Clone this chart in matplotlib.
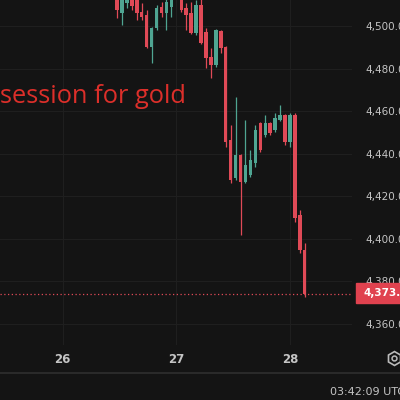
import matplotlib
matplotlib.use("Agg")
import matplotlib.pyplot as plt
from matplotlib.patches import Rectangle
from matplotlib.lines import Line2D

# ---- data (hourly candles, index 0 = day 26 00:00, 23 candles per session) ----
candle_idx = list(range(11, 50))
opens  = [4516.9, 4506.1, 4510.8, 4513.2, 4513.0, 4506.6, 4505.2, 4490.1, 4499.1, 4508.9,
          4506.1, 4508.9, 4514.0, 4516.0, 4508.5, 4506.1, 4496.7, 4509.9, 4497.2, 4485.4,
          4481.6, 4497.7, 4490.1, 4446.4, 4428.5, 4439.3, 4426.6, 4429.9, 4435.5, 4454.4,
          4448.7, 4454.4, 4451.1, 4455.8, 4458.1, 4445.4, 4458.1, 4411.1, 4394.6]
highs  = [4519.3, 4517.0, 4516.5, 4515.0, 4514.5, 4510.8, 4507.5, 4499.5, 4509.9, 4511.3,
          4513.2, 4516.0, 4522.0, 4518.0, 4510.8, 4511.3, 4512.2, 4513.0, 4499.1, 4489.6,
          4498.4, 4498.0, 4490.5, 4453.4, 4466.6, 4439.8, 4455.8, 4441.7, 4453.4, 4454.8,
          4458.1, 4454.8, 4459.1, 4462.8, 4458.5, 4459.1, 4459.1, 4413.4, 4397.9]
lows   = [4503.8, 4500.5, 4508.5, 4507.5, 4502.8, 4502.8, 4489.6, 4482.6, 4498.1, 4504.2,
          4498.1, 4504.2, 4513.0, 4506.6, 4498.1, 4496.2, 4495.8, 4491.5, 4480.2, 4475.5,
          4480.7, 4487.3, 4443.1, 4426.1, 4427.5, 4401.6, 4426.2, 4428.9, 4433.6, 4440.7,
          4447.8, 4448.7, 4450.1, 4455.5, 4444.0, 4443.1, 4407.8, 4393.2, 4372.5]
closes = [4507.5, 4514.6, 4514.6, 4509.4, 4506.1, 4504.2, 4490.1, 4499.1, 4508.5, 4506.1,
          4511.3, 4513.7, 4519.0, 4507.5, 4505.2, 4496.7, 4509.9, 4492.0, 4484.9, 4481.6,
          4498.1, 4489.6, 4445.4, 4427.5, 4439.3, 4426.6, 4434.6, 4437.0, 4451.1, 4441.7,
          4454.4, 4449.6, 4456.7, 4458.1, 4445.4, 4458.1, 4409.6, 4394.6, 4373.8]
day_ticks = [0, 23, 46]
day_labels = ["26", "27", "28"]
price_ticks = [4360, 4380, 4400, 4420, 4440, 4460, 4480, 4500]
annotation = "session for gold"
timestamp = "03:42:09 UTC"

BG = "#141414"
UP = "#4fa592"
DOWN = "#e04a57"
GRID = "#1f1f1f"
TXT = "#c4c4c4"

W = H = 400.0
fig = plt.figure(figsize=(4, 4), dpi=100, facecolor=BG)
ax = fig.add_axes([0, 55 / H, 352 / W, 345 / H], facecolor=BG)

px_per_candle = 4.94
x0 = 62.7
ax.set_xlim(-x0 / px_per_candle, (352 - x0) / px_per_candle)
ppd = 2.125
ax.set_ylim(4512.24 - 345 / ppd, 4512.24)

for s in ax.spines.values():
    s.set_visible(False)

ax.set_xticks(day_ticks)
ax.set_xticklabels(day_labels)
ax.set_yticks(price_ticks)
ax.set_yticklabels([f"{p:,.2f}" for p in price_ticks])
ax.yaxis.tick_right()
ax.tick_params(axis="y", length=0, pad=10, labelsize=7.5, labelcolor=TXT)
ax.tick_params(axis="x", length=0, pad=6, labelsize=8.5, labelcolor=TXT)
for lab in ax.get_xticklabels():
    lab.set_fontweight("bold")
ax.grid(True, color=GRID, lw=0.8)
ax.set_axisbelow(True)

for k, o, h, l, c in zip(candle_idx, opens, highs, lows, closes):
    col = UP if c >= o else DOWN
    ax.vlines(k, l, h, color=col, lw=0.9, zorder=3)
    ax.bar(k, c - o, bottom=o, width=0.7, color=col, zorder=4, linewidth=0)

last = closes[-1]
ax.axhline(last, color=DOWN, ls=(0, (1, 2)), lw=0.9, zorder=2)

ax.text(0.0, 1 - 103 / H, annotation, transform=fig.transFigure, color="#dc2f2a",
        fontsize=18.3, family="Open Sans", va="baseline", ha="left", zorder=6)

# price label box
fig.patches.append(Rectangle((356 / W, 1 - 303 / H), 44 / W, 20 / H,
                             transform=fig.transFigure, color="#e0424f", zorder=5))
fig.text(364 / W, 1 - 293.5 / H, f"{last:,.2f}", color="white", fontsize=7.5,
         fontweight="bold", va="center", ha="left", zorder=6)

# bottom separator and timestamp
fig.add_artist(Line2D([0, 1], [1 - 373 / H] * 2, color="#2a2a2a", lw=1.5))
fig.text(330 / W, 1 - 392 / H, timestamp, color=TXT, fontsize=8, va="center", ha="left")

# settings icon
fig.add_artist(Line2D([394 / W], [1 - 358 / H], marker="h", ms=10, mfc="none",
                      mec="#bbbbbb", mew=1.2, ls="none"))
fig.add_artist(Line2D([394 / W], [1 - 358 / H], marker="o", ms=3.5, mfc="none",
                      mec="#bbbbbb", mew=1.1, ls="none"))

fig.savefig("out.png", dpi=100, facecolor=BG)
